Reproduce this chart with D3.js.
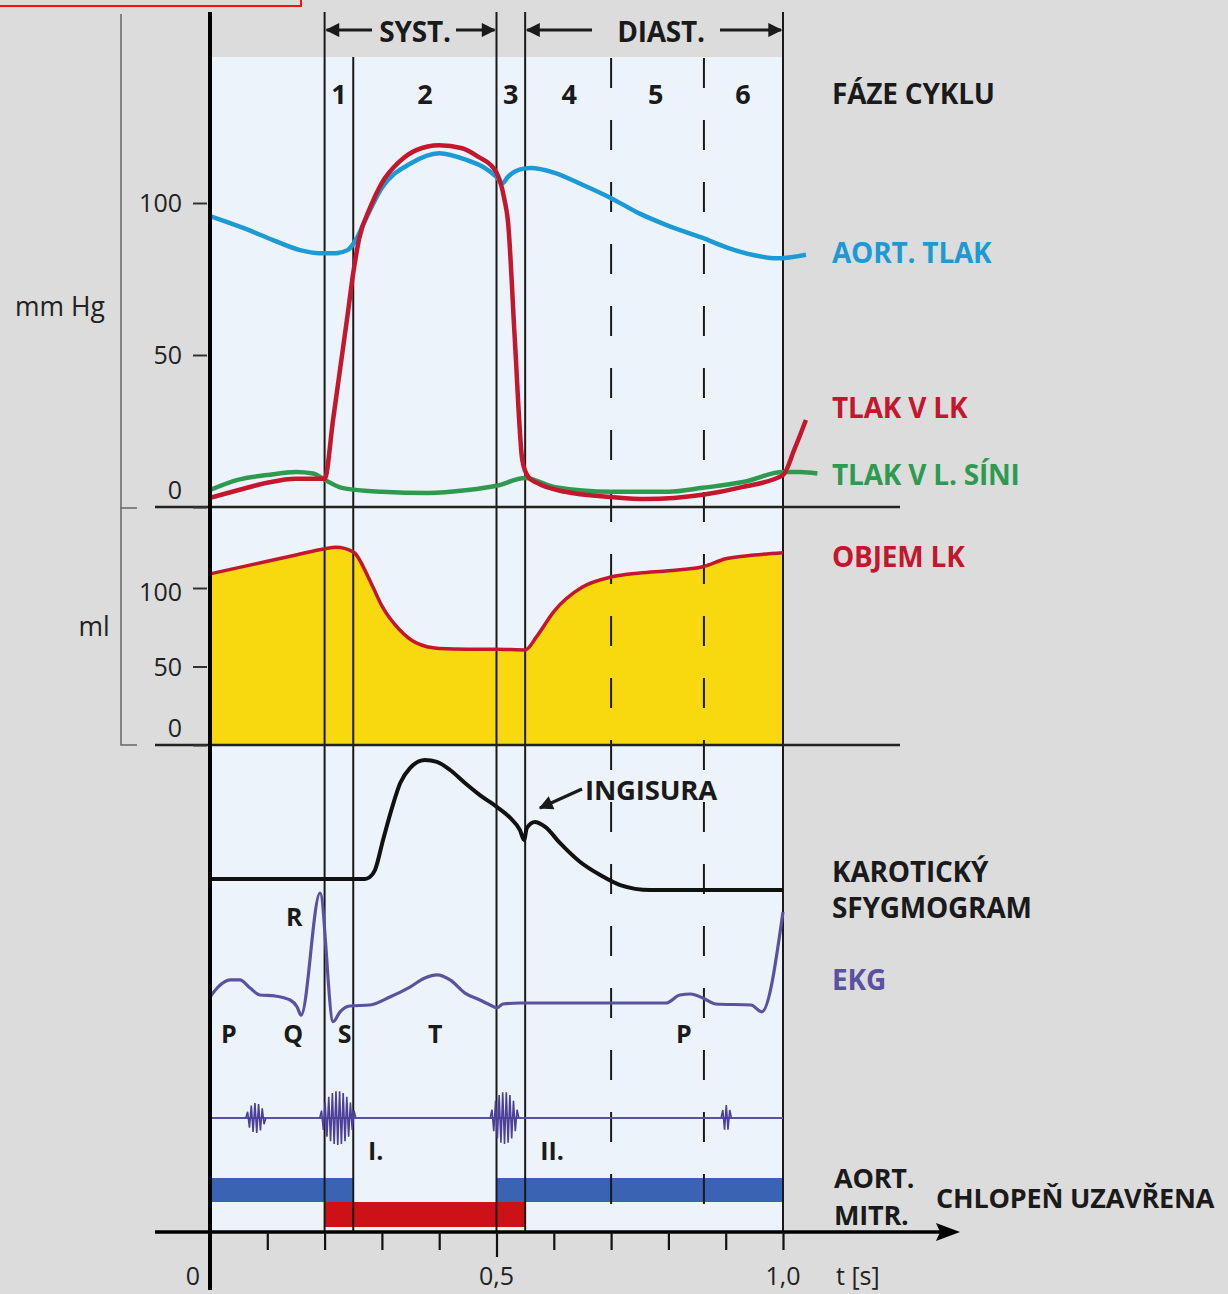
<!DOCTYPE html>
<html><head><meta charset="utf-8">
<script src="https://cdn.jsdelivr.net/npm/d3@7"></script>
<style>
html,body{margin:0;padding:0;background:#dcdcdc;}
svg{display:block;}
text{font-family:"Open Sans",sans-serif;}
</style></head><body>
<svg id="c" width="1228" height="1294"></svg>
<script>
// ---- cardiac cycle timing (s) ----
const solidMarks = [0.2, 0.5, 0.55, 1.0];     // full-height boundaries
const ejectionStart = 0.25;                    // boundary drawn inside panel only
const dashedMarks = [0.7, 0.862];
const phaseLabels = ["1", "2", "3", "4", "5", "6"];
const phaseCenters = [0.225, 0.375, 0.525, 0.627, 0.778, 0.930];

// ---- pressures (mmHg) : [t, value] ----
const aorticPressure = [[0,95.7],[0.058,91.8],[0.11,87.8],[0.157,84.5],[0.19,83.5],[0.22,83.5],[0.24,84.5],[0.255,88],[0.27,94],[0.3,105],[0.35,113],[0.4,116.4],[0.45,114],[0.48,111.5],[0.5,108.6],[0.51,106.5],[0.52,108.6],[0.54,111],[0.56,111.5],[0.6,110],[0.65,106],[0.7,101.6],[0.75,96.5],[0.8,92.5],[0.86,88.5],[0.9,85.5],[0.95,82.8],[0.99,81.8],[1.04,83]];
const lvPressure = [[0,3],[0.05,5.6],[0.1,8],[0.15,9.3],[0.2,9.3],[0.215,29],[0.24,63],[0.25,77],[0.26,88],[0.28,98.7],[0.3,106.6],[0.33,113.5],[0.36,117.4],[0.4,119],[0.44,118],[0.47,115],[0.49,112.5],[0.5,110],[0.508,106],[0.514,101],[0.52,94],[0.532,55],[0.545,15.5],[0.555,10],[0.57,8],[0.62,5],[0.7,3.3],[0.76,2.6],[0.86,4],[0.93,6.6],[1.0,10.5],[1.02,19],[1.04,28.6]];
const laPressure = [[0,5.6],[0.05,9],[0.1,10.5],[0.15,11.5],[0.18,11],[0.2,9],[0.23,6.3],[0.3,5],[0.38,4.6],[0.45,5.6],[0.5,7],[0.55,9.5],[0.6,6.6],[0.7,5],[0.8,5],[0.86,6.3],[0.93,8.2],[1.0,11.5],[1.03,11.5],[1.06,11]];

// ---- LV volume (ml) ----
const lvVolume = [[0,109],[0.1,117],[0.15,121],[0.2,125],[0.22,126],[0.25,123],[0.28,104],[0.3,88.6],[0.33,73.7],[0.36,65],[0.4,61.5],[0.45,61],[0.5,61],[0.55,60.5],[0.57,69],[0.6,85],[0.65,100.6],[0.7,107],[0.75,109.6],[0.8,111],[0.86,113.5],[0.9,118.6],[0.95,121],[1.0,122.4]];

// ---- carotid pulse (relative units 0-100) ----
const carotid = [[0,8.5],[0.27,8.5],[0.279,10],[0.288,15.4],[0.302,38.5],[0.318,63.8],[0.332,82.3],[0.349,93.8],[0.375,100],[0.396,98.5],[0.419,92.3],[0.445,82.3],[0.471,73],[0.501,63.8],[0.524,55.4],[0.541,46],[0.548,38.5],[0.553,47.7],[0.567,52.3],[0.585,48.5],[0.611,36],[0.646,21.5],[0.681,11.5],[0.716,3.8],[0.768,0],[1.0,0]];

// ---- ECG (relative units, R = 100) ----
const ecg = [[0,5.5],[0.014,14.5],[0.035,21],[0.052,21],[0.07,13.6],[0.087,7.3],[0.113,6.4],[0.14,2.7],[0.152,-3.6],[0.159,-11],[0.192,100],[0.215,-17],[0.227,-8],[0.244,-2.7],[0.279,-1.8],[0.314,5.5],[0.349,14.5],[0.375,22.7],[0.396,25.5],[0.419,21],[0.445,9],[0.471,2.7],[0.489,-1.8],[0.501,-4.5],[0.511,-0.9],[0.541,0],[0.796,0],[0.82,7.3],[0.839,8.2],[0.86,4.5],[0.883,-0.9],[0.944,-1.8],[0.963,-8],[1.0,82.7]];
const ecgWaveLabels = [["P",0.033,"low"],["Q",0.145,"low"],["R",0.147,"high"],["S",0.235,"low"],["T",0.393,"low"],["P",0.827,"low"]];

// ---- heart sounds: centre (s), duration (s), amplitude ----
const heartSounds = [
  {t:0.080, dur:0.035, amp:15},
  {t:0.223, dur:0.063, amp:27},
  {t:0.514, dur:0.050, amp:26},
  {t:0.901, dur:0.018, amp:13}
];
const soundLabels = [["I.",0.289],["II.",0.597]];

// ---- valve closure intervals (s) ----
const aorticClosed = [[0,0.25],[0.5,1.0]];
const mitralClosed = [[0.2,0.55]];

// ---- axes ----
const pressureTicks = [0, 50, 100];
const volumeTicks = [0, 50, 100];
const timeTicks = [0.1,0.2,0.3,0.4,0.5,0.6,0.7,0.8,0.9,1.0];
const timeLabels = [[0,"0"],[0.5,"0,5"],[1.0,"1,0"]];

const C = {
  aorta:"#1b9ad6", lv:"#c4162c", la:"#2e9a50", ecg:"#5a52a0",
  fill:"#f8d90f", panel:"#edf3fa", ink:"#1a1a1a", valveA:"#3a63b3", valveM:"#cc1117"
};

const svg = d3.select("#c");
const x = d3.scaleLinear().domain([0,1]).range([210,783]);
const yP = d3.scaleLinear().domain([0,100]).range([507,203]);
const yV = d3.scaleLinear().domain([0,100]).range([745,588]);
const yC = d3.scaleLinear().domain([0,100]).range([890,760]);
const yE = d3.scaleLinear().domain([0,100]).range([1003,893]);
const yS = d3.scaleLinear().domain([-30,30]).range([1148,1088]);

const PANEL_TOP = 57, AXIS_Y = 1232;

// arrowhead marker
svg.append("defs").append("marker")
  .attr("id","ah").attr("viewBox","0 0 10 10").attr("refX",9).attr("refY",5)
  .attr("markerWidth",5).attr("markerHeight",4.4).attr("orient","auto")
  .append("path").attr("d","M0,0 L10,5 L0,10 Z").attr("fill",C.ink);

// frame at the top-left corner
svg.append("rect").attr("x",-2).attr("y",-2).attr("width",303).attr("height",8)
  .attr("fill","none").attr("stroke","#ff1010").attr("stroke-width",2);

// plot panel
svg.append("rect").attr("x",x(0)).attr("y",PANEL_TOP).attr("width",x(1)-x(0))
  .attr("height",AXIS_Y-PANEL_TOP).attr("fill",C.panel);

// LV volume area
svg.append("path").datum(lvVolume)
  .attr("d", d3.area().x(d=>x(d[0])).y0(yV(0)).y1(d=>yV(d[1])).curve(d3.curveMonotoneX))
  .attr("fill",C.fill);

// valve closure bars
svg.append("g").selectAll("rect").data(aorticClosed).join("rect")
  .attr("x",d=>x(d[0])).attr("width",d=>x(d[1])-x(d[0]))
  .attr("y",1178).attr("height",24).attr("fill",C.valveA);
svg.append("g").selectAll("rect").data(mitralClosed).join("rect")
  .attr("x",d=>x(d[0])).attr("width",d=>x(d[1])-x(d[0]))
  .attr("y",1202).attr("height",25).attr("fill",C.valveM);

// vertical boundaries
const vl = svg.append("g").attr("stroke",C.ink).attr("stroke-width",2);
vl.selectAll(".s").data(solidMarks).join("line")
  .attr("x1",d=>x(d)).attr("x2",d=>x(d)).attr("y1",12).attr("y2",AXIS_Y);
vl.append("line").attr("x1",x(ejectionStart)).attr("x2",x(ejectionStart))
  .attr("y1",PANEL_TOP).attr("y2",AXIS_Y);
vl.selectAll(".d").data(dashedMarks).join("line")
  .attr("x1",d=>x(d)).attr("x2",d=>x(d)).attr("y1",PANEL_TOP+1).attr("y2",AXIS_Y)
  .attr("stroke-dasharray","30,32");

// horizontal separators
[507,745].forEach(y=>svg.append("line").attr("x1",155).attr("x2",900)
  .attr("y1",y).attr("y2",y).attr("stroke","#222").attr("stroke-width",2.5));

// brackets on the left
const br = svg.append("g").attr("stroke","#666").attr("stroke-width",1.5).attr("fill","none");
br.append("path").attr("d","M121,14 V508 H137");
br.append("path").attr("d","M121,508 V745 H137");

// left axes
const pAxis = svg.append("g").attr("transform","translate(207,0)")
  .call(d3.axisLeft(yP).tickValues(pressureTicks).tickSize(14).tickPadding(11));
const vAxis = svg.append("g").attr("transform","translate(207,0)")
  .call(d3.axisLeft(yV).tickValues(volumeTicks).tickSize(14).tickPadding(11));
[pAxis,vAxis].forEach(g=>{
  g.select(".domain").remove();
  g.selectAll("line").attr("stroke","#333").attr("stroke-width",2);
  g.selectAll("text").attr("font-size",25).attr("fill","#222")
    .attr("font-family","Open Sans, sans-serif")
    .attr("dy",d=>d===0?"-0.35em":"0.35em");
});
vAxis.selectAll("text").filter(d=>d===100).attr("dy","0.5em");

// unit labels
svg.append("text").attr("x",60).attr("y",316).attr("text-anchor","middle")
  .attr("font-size",26.5).attr("fill","#222").text("mm Hg");
svg.append("text").attr("x",94).attr("y",636).attr("text-anchor","middle")
  .attr("font-size",26.5).attr("fill","#222").text("ml");

// pressure curves
const lineP = d3.line().x(d=>x(d[0])).y(d=>yP(d[1])).curve(d3.curveMonotoneX);
svg.append("path").datum(laPressure).attr("d",lineP).attr("fill","none")
  .attr("stroke",C.la).attr("stroke-width",4.5);
svg.append("path").datum(aorticPressure).attr("d",lineP).attr("fill","none")
  .attr("stroke",C.aorta).attr("stroke-width",4.5);
svg.append("path").datum(lvPressure).attr("d",lineP).attr("fill","none")
  .attr("stroke",C.lv).attr("stroke-width",4.5);

// volume outline
svg.append("path").datum(lvVolume)
  .attr("d", d3.line().x(d=>x(d[0])).y(d=>yV(d[1])).curve(d3.curveMonotoneX))
  .attr("fill","none").attr("stroke",C.lv).attr("stroke-width",3.5);

// carotid pulse
svg.append("path").datum(carotid)
  .attr("d", d3.line().x(d=>x(d[0])).y(d=>yC(d[1])).curve(d3.curveMonotoneX))
  .attr("fill","none").attr("stroke","#111").attr("stroke-width",4);

// ECG
svg.append("path").datum(ecg)
  .attr("d", d3.line().x(d=>x(d[0])).y(d=>yE(d[1])).curve(d3.curveMonotoneX))
  .attr("fill","none").attr("stroke",C.ecg).attr("stroke-width",3.2)
  .attr("stroke-linejoin","round");

// heart sounds
svg.append("line").attr("x1",x(0)).attr("x2",x(1)).attr("y1",yS(0)).attr("y2",yS(0))
  .attr("stroke",C.ecg).attr("stroke-width",1.8);
function burst(b){
  const x0 = x(b.t-b.dur/2), x1 = x(b.t+b.dur/2);
  const n = Math.max(4, Math.round((x1-x0)/1.8));
  const pts = [[x0,yS(0)]];
  for(let i=1;i<n;i++){
    const u=i/n, env=b.amp*Math.pow(Math.sin(Math.PI*u),0.7);
    pts.push([x0+(x1-x0)*u, yS(i%2?env:-env)]);
  }
  pts.push([x1,yS(0)]);
  return d3.line()(pts);
}
svg.append("g").selectAll("path").data(heartSounds).join("path")
  .attr("d",burst).attr("fill","none").attr("stroke","#4b3f98").attr("stroke-width",1.6);

// left axis & time axis
svg.append("line").attr("x1",210).attr("x2",210).attr("y1",12).attr("y2",1290)
  .attr("stroke","#000").attr("stroke-width",4);
svg.append("line").attr("x1",155).attr("x2",945).attr("y1",AXIS_Y).attr("y2",AXIS_Y)
  .attr("stroke","#000").attr("stroke-width",3.5);
svg.append("path").attr("d",`M960,${AXIS_Y} L936,${AXIS_Y-9} L940,${AXIS_Y} L936,${AXIS_Y+9} Z`).attr("fill","#000");
const tAxis = svg.append("g").attr("transform",`translate(0,${AXIS_Y})`)
  .call(d3.axisBottom(x).tickValues(timeTicks).tickSize(18).tickFormat(""));
tAxis.select(".domain").remove();
tAxis.selectAll("line").attr("stroke","#111").attr("stroke-width",2.2);
tAxis.selectAll(".tick").filter(d=>d===0.5).select("line").attr("y2",25);
svg.append("g").selectAll("text").data(timeLabels).join("text")
  .attr("x",d=>d[0]===0?x(0)-17:x(d[0])).attr("y",1285).attr("text-anchor","middle")
  .attr("font-size",25).attr("fill","#222").text(d=>d[1]);
svg.append("text").attr("x",836).attr("y",1285).attr("font-size",25).attr("fill","#222").text("t [s]");

// top arrows for systole / diastole
function arrow(x1,x2,y){
  svg.append("line").attr("x1",x1).attr("x2",x2).attr("y1",y).attr("y2",y)
    .attr("stroke",C.ink).attr("stroke-width",3.2).attr("marker-end","url(#ah)");
}
arrow(372,x(0.2)+2,30); arrow(456,x(0.5)-2,30);
arrow(592,x(0.55)+2,30); arrow(720,x(1.0)-2,30);

const bold = (t,xx,yy,fill,size,anchor)=>svg.append("text").attr("x",xx).attr("y",yy)
  .attr("font-size",size||28).attr("font-weight",700).attr("fill",fill||C.ink)
  .attr("text-anchor",anchor||"start").attr("letter-spacing","-0.2").text(t);

bold("SYST.",415,42,C.ink,28,"middle");
bold("DIAST.",661,42,C.ink,28,"middle");

// phase numbers
svg.append("g").selectAll("text").data(phaseLabels).join("text")
  .attr("x",(d,i)=>x(phaseCenters[i])).attr("y",104).attr("text-anchor","middle")
  .attr("font-size",27).attr("font-weight",700).attr("fill",C.ink).text(d=>d);

// series labels
bold("FÁZE CYKLU",832,104);
bold("AORT. TLAK",832,263,C.aorta);
bold("TLAK V LK",832,418,C.lv);
bold("TLAK V L. SÍNI",832,485,C.la);
bold("OBJEM LK",832,567,C.lv);
bold("KAROTICKÝ",832,882);
bold("SFYGMOGRAM",832,918);
bold("EKG",832,990,C.ecg);
bold("AORT.",834,1188,C.ink,27);
bold("MITR.",834,1225,C.ink,27);
bold("CHLOPEŇ UZAVŘENA",936,1208,C.ink,27);

// incisura annotation
bold("INGISURA",585,800,C.ink,27.5);
svg.append("line").attr("x1",582).attr("y1",789).attr("x2",540).attr("y2",808)
  .attr("stroke",C.ink).attr("stroke-width",3.2).attr("marker-end","url(#ah)");

// ECG wave letters
svg.append("g").selectAll("text").data(ecgWaveLabels).join("text")
  .attr("x",d=>x(d[1])).attr("y",d=>d[2]==="high"?926:1043).attr("text-anchor","middle")
  .attr("font-size",25).attr("font-weight",700).attr("fill",C.ink).text(d=>d[0]);

// heart sound numerals
svg.append("g").selectAll("text").data(soundLabels).join("text")
  .attr("x",d=>x(d[1])).attr("y",1160).attr("text-anchor","middle")
  .attr("font-size",25).attr("font-weight",700).attr("fill",C.ink).text(d=>d[0]);
</script>
</body></html>
